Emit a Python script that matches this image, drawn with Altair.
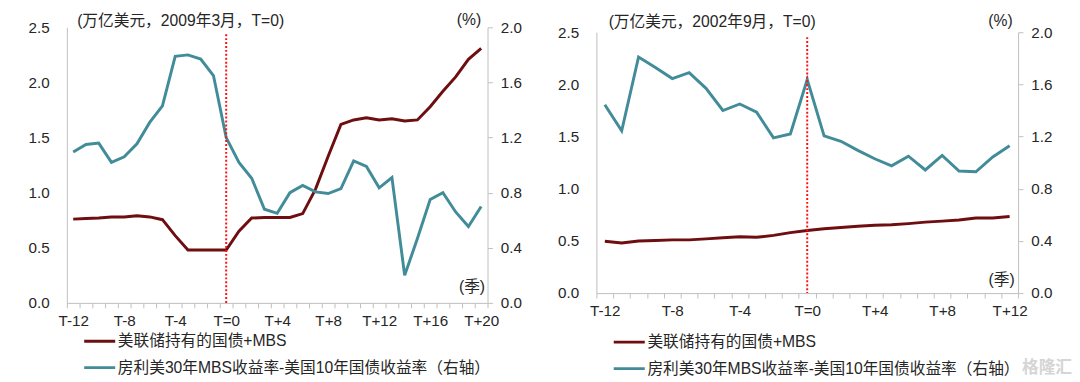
import json
import altair as alt
import pandas as pd

FONT = "Liberation Sans, Arial, Noto Sans CJK SC, sans-serif"
TXT = "#262626"
GRAY = "#BFBFBF"
MAROON = "#6E0E10"
TEAL = "#428C9A"

name_fed = "美联储持有的国债+MBS"
name_spread = "房利美30年MBS收益率-美国10年国债收益率（右轴）"

left_quarters = ["T-12", "T-11", "T-10", "T-9", "T-8", "T-7", "T-6", "T-5", "T-4",
                 "T-3", "T-2", "T-1", "T=0", "T+1", "T+2", "T+3", "T+4", "T+5",
                 "T+6", "T+7", "T+8", "T+9", "T+10", "T+11", "T+12", "T+13",
                 "T+14", "T+15", "T+16", "T+17", "T+18", "T+19", "T+20"]
right_quarters = left_quarters[:25]

left_tick_labels = ["T-12", "T-8", "T-4", "T=0", "T+4", "T+8", "T+12", "T+16", "T+20"]
right_tick_labels = ["T-12", "T-8", "T-4", "T=0", "T+4", "T+8", "T+12"]

# 2009年3月 (T=0)
left_fed = [0.76, 0.765, 0.77, 0.78, 0.78, 0.79, 0.78, 0.755, 0.61, 0.48, 0.48, 0.48, 0.48,
            0.65, 0.77, 0.775, 0.775, 0.775, 0.81, 1.03, 1.33, 1.62, 1.66, 1.68, 1.66,
            1.67, 1.65, 1.66, 1.78, 1.92, 2.05, 2.21, 2.31]
left_spread = [1.095, 1.15, 1.16, 1.02, 1.06, 1.155, 1.31, 1.43, 1.79, 1.80, 1.77, 1.65,
               1.20, 1.02, 0.905, 0.68, 0.65, 0.80, 0.853, 0.806, 0.794, 0.83, 1.03, 0.99,
               0.835, 0.91, 0.20, 0.467, 0.75, 0.80, 0.66, 0.555, 0.70]

# 2002年9月 (T=0)
right_fed = [0.497, 0.48, 0.50, 0.505, 0.51, 0.51, 0.52, 0.53, 0.54, 0.535, 0.553, 0.58,
             0.60, 0.616, 0.628, 0.64, 0.65, 0.655, 0.666, 0.68, 0.69, 0.70, 0.72, 0.72, 0.735]
right_spread = [1.444, 1.244, 1.81, 1.73, 1.645, 1.69, 1.57, 1.40, 1.45, 1.387, 1.19, 1.22,
                1.637, 1.206, 1.164, 1.094, 1.03, 0.976, 1.05, 0.944, 1.056, 0.936, 0.93,
                1.044, 1.13]

left_ticks = [0, 0.5, 1.0, 1.5, 2.0, 2.5]
right_ticks = [0, 0.4, 0.8, 1.2, 1.6, 2.0]


def panel(quarters, fed, spread, tick_labels, width, height, top, title_text,
          lt_xy, rt_xy, xt_xy, rule_top, legend_y, watermark=False):
    n = len(quarters)
    df = pd.DataFrame({
        "quarter": quarters * 2,
        "series": [name_fed] * n + [name_spread] * n,
        "value": fed + spread,
    })
    label_expr = "indexof(%s, datum.value) >= 0 ? datum.value : ''" % json.dumps(tick_labels)
    xenc = alt.X(
        "quarter:N",
        scale=alt.Scale(type="band", domain=quarters, paddingInner=0, paddingOuter=0),
        axis=alt.Axis(
            labelExpr=label_expr, labelOverlap=False, labelAngle=0, tickBand="extent",
            tickSize=5, tickColor=GRAY, domainColor=GRAY, labelFontSize=15.5,
            labelFont=FONT, labelColor=TXT, labelPadding=6, grid=False,
            title="(季)", titleX=xt_xy[0], titleY=xt_xy[1], titleAlign="right",
            titleBaseline="middle", titleFontSize=16, titleFontWeight="normal",
            titleFont=FONT, titleColor=TXT,
        ),
    )
    color = alt.Color(
        "series:N",
        scale=alt.Scale(domain=[name_fed, name_spread], range=[MAROON, TEAL]),
        legend=alt.Legend(
            orient="none", legendX=16, legendY=legend_y, direction="vertical",
            title=None, symbolType="stroke", symbolSize=1000, symbolStrokeWidth=3,
            labelFontSize=16, labelFont=FONT, labelColor=TXT, labelLimit=700,
            labelOffset=1, rowPadding=0, clipHeight=27, padding=0,
        ),
    )
    base = alt.Chart(df)
    fed_layer = base.transform_filter(alt.datum.series == name_fed).mark_line(
        strokeWidth=3).encode(
        x=xenc,
        y=alt.Y("value:Q", scale=alt.Scale(domain=[0, 2.5], range=[height, top]),
                axis=alt.Axis(values=left_ticks, format=".1f", ticks=False,
                              domainColor=GRAY, labelPadding=18, grid=False,
                              labelFontSize=15.5, labelFont=FONT, labelColor=TXT,
                              title=title_text, titleAngle=0, titleX=lt_xy[0],
                              titleY=lt_xy[1], titleAlign="left",
                              titleBaseline="middle", titleFontSize=16,
                              titleFontWeight="normal", titleFont=FONT,
                              titleColor=TXT)),
        color=color,
    )
    spread_layer = base.transform_filter(alt.datum.series == name_spread).mark_line(
        strokeWidth=3).encode(
        x=xenc,
        y=alt.Y("value:Q", scale=alt.Scale(domain=[0, 2.0], range=[height, top]),
                axis=alt.Axis(orient="right", values=right_ticks, format=".1f",
                              tickSize=5, tickColor=GRAY, domainColor=GRAY,
                              labelPadding=8, grid=False, labelFontSize=15.5,
                              labelFont=FONT, labelColor=TXT, title="(%)",
                              titleAngle=0, titleX=rt_xy[0], titleY=rt_xy[1],
                              titleAlign="right", titleBaseline="middle",
                              titleFontSize=16, titleFontWeight="normal",
                              titleFont=FONT, titleColor=TXT)),
        color=color,
    )
    rule = alt.Chart(pd.DataFrame({"quarter": ["T=0"]})).mark_rule(
        color="#FF1010", strokeDash=[2, 2], strokeWidth=2).encode(
        x=xenc, y=alt.value(rule_top), y2=alt.value(height))
    layers = [fed_layer, spread_layer, rule]
    if watermark:
        wm = alt.Chart(pd.DataFrame({"t": ["格隆汇"]})).mark_text(
            font=FONT, fontSize=17, fontWeight="bold", color="#D5D5D5",
            align="left", baseline="middle").encode(
            text="t:N", x=alt.value(434), y=alt.value(347))
        layers.append(wm)
    return alt.layer(*layers).resolve_scale(y="independent").properties(
        width=width, height=height)


left = panel(left_quarters, left_fed, left_spread, left_tick_labels, 429, 281, 0,
             "(万亿美元，2009年3月，T=0)", (10, -7), (-7, -8), (426, -17), 7, 306.5)
right = panel(right_quarters, right_fed, right_spread, right_tick_labels, 430, 271, 5,
              "(万亿美元，2002年9月，T=0)", (12, -6), (-6, -7), (426, -14), 10, 307.5,
              watermark=True)

chart = alt.hconcat(left, right, spacing=36).resolve_scale(
    color="independent").resolve_legend(color="independent").properties(
    padding={"left": 20, "top": 0, "right": 0, "bottom": 0}
).configure_view(stroke=None)

chart.save("out.html", embed_options={"renderer": "svg", "actions": False})
